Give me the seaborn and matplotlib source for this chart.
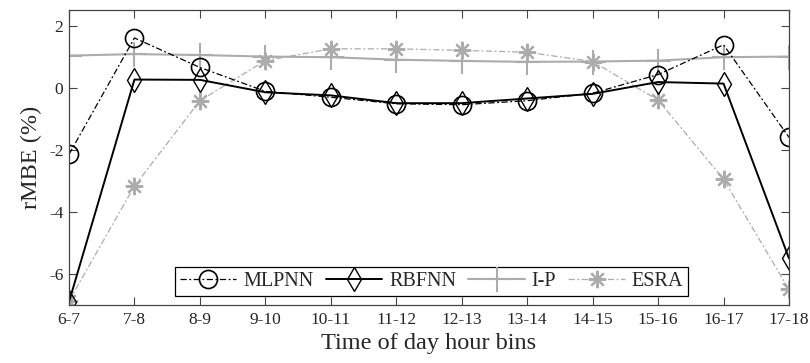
import numpy as np
import pandas as pd
import matplotlib
matplotlib.use("Agg")
import matplotlib.pyplot as plt
import seaborn as sns

hour_bins = ["6-7", "7-8", "8-9", "9-10", "10-11", "11-12", "12-13",
             "13-14", "14-15", "15-16", "16-17", "17-18"]
mlpnn = [-2.15, 1.6, 0.65, -0.12, -0.31, -0.52, -0.55, -0.42, -0.18, 0.42, 1.38, -1.6]
rbfnn = [-6.9, 0.26, 0.25, -0.15, -0.25, -0.5, -0.5, -0.35, -0.2, 0.18, 0.13, -5.5]
ip = [1.03, 1.08, 1.05, 1.0, 0.98, 0.9, 0.86, 0.83, 0.84, 0.87, 0.98, 1.0]
esra = [-6.87, -3.17, -0.42, 0.87, 1.25, 1.25, 1.2, 1.14, 0.84, -0.4, -2.95, -6.5]
yticks = [-6, -4, -2, 0, 2]

sns.set_style("ticks")
plt.rcParams['font.family'] = ['Liberation Serif', 'DejaVu Serif']
plt.rcParams['xtick.direction'] = 'in'
plt.rcParams['ytick.direction'] = 'in'
plt.rcParams['axes.unicode_minus'] = False

x = np.arange(len(hour_bins))
df = pd.DataFrame({"x": x, "MLPNN": mlpnn, "RBFNN": rbfnn, "I-P": ip, "ESRA": esra})

fig = plt.figure(figsize=(8.1, 3.63), dpi=100)
ax = fig.add_axes([69/810, 1 - 305/363, 720/810, 295/363])

gray = "#acacac"
sns.lineplot(data=df, x="x", y="I-P", ax=ax, color=gray, lw=1.5, marker="+",
             markersize=18, markeredgewidth=1.5, mec=gray, label="I-P")
sns.lineplot(data=df, x="x", y="ESRA", ax=ax, color=gray, lw=0.9, marker=(8, 2, 0),
             markersize=12.5, markeredgewidth=1.6, mec=gray, label="ESRA")
ax.lines[-1].set_dashes([5, 2, 1.5, 2])
sns.lineplot(data=df, x="x", y="RBFNN", ax=ax, color="black", lw=1.4, marker="d",
             markersize=12.5, mfc="none", mec="black", markeredgewidth=1.0, label="RBFNN")
sns.lineplot(data=df, x="x", y="MLPNN", ax=ax, color="black", lw=0.9, marker="o",
             markersize=13, mfc="none", mec="black", markeredgewidth=1.2, label="MLPNN")
ax.lines[-1].set_dashes([5, 2, 1.5, 2])

ax.set_xlim(0, len(hour_bins) - 1)
ax.set_ylim(-7, 2.5)
ax.set_xticks(x)
ax.set_xticklabels(hour_bins)
ax.set_yticks(yticks)
ax.tick_params(axis="both", labelsize=12.5, length=6, width=0.8, color="#444444",
               top=True, right=True)
ax.tick_params(axis="x", pad=5)
ax.tick_params(axis="y", pad=4)
for s in ax.spines.values():
    s.set_color("#444444")
    s.set_linewidth(0.9)
ax.set_xlabel("Time of day hour bins", fontsize=17.5, labelpad=4)
ax.set_ylabel("rMBE (%)", fontsize=17.5, labelpad=5)

handles, labels = ax.get_legend_handles_labels()
order = ["MLPNN", "RBFNN", "I-P", "ESRA"]
hmap = dict(zip(labels, handles))
leg = ax.legend([hmap[k] for k in order], order, ncol=4, loc="lower left",
                bbox_to_anchor=((175 - 69) / 720, (305 - 296) / 295), fontsize=14.5,
                frameon=True, fancybox=False, edgecolor="black", framealpha=1,
                handlelength=2.8, columnspacing=0.6, handletextpad=0.35,
                borderpad=0.25, borderaxespad=0)
leg.get_frame().set_linewidth(0.9)

fig.savefig("out.png", dpi=100)
